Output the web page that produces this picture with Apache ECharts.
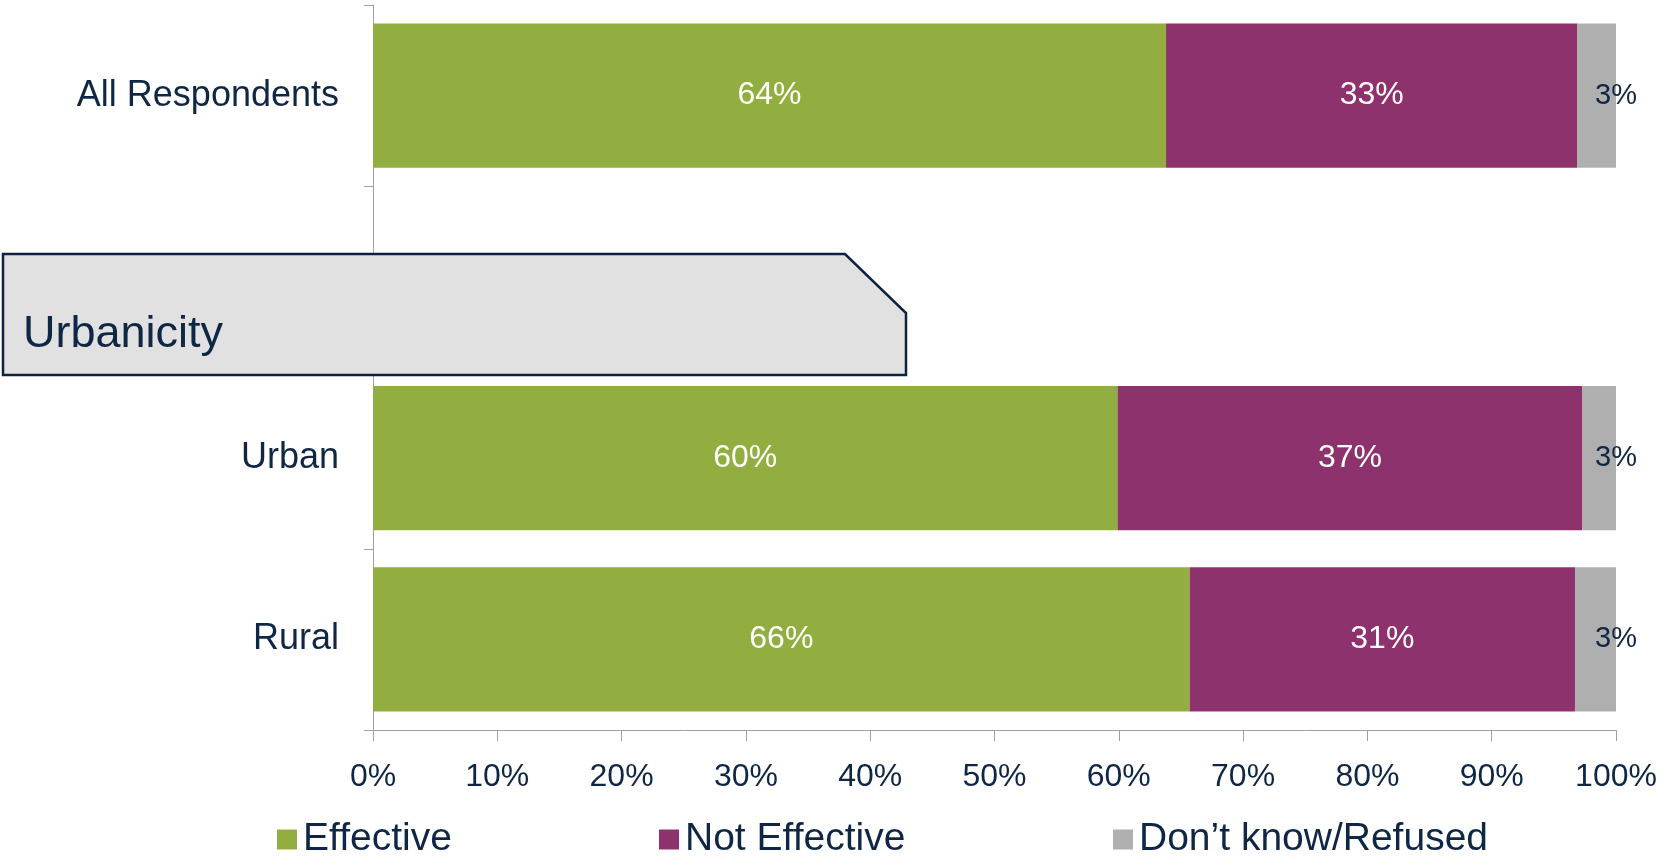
<!DOCTYPE html>
<html>
<head>
<meta charset="utf-8">
<script src="https://cdn.jsdelivr.net/npm/echarts@6/dist/echarts.min.js"></script>
<style>
html,body{margin:0;padding:0;background:#fff;}
#chart{width:1671px;height:857px;}
</style>
</head>
<body>
<div id="chart"></div>
<script>
// ---- data ----
var categories = ['All Respondents', '', 'Urban', 'Rural'];
var seriesNames = ['Effective', 'Not Effective', 'Don\u2019t know/Refused'];
var effective = [63.8, null, 59.9, 65.7];
var notEffective = [33.1, null, 37.4, 31.0];
var dontKnow = [3.1, null, 2.7, 3.3];
var xTicks = [0, 10, 20, 30, 40, 50, 60, 70, 80, 90, 100];
var groupTitle = 'Urbanicity';

// ---- style ----
var NAVY = '#0f2744';
var AXIS = '#a0a0a0';
var COLORS = ['#92ae40', '#8e326d', '#afafb0'];
var FONT = "'Liberation Sans', Arial, sans-serif";

var chart = echarts.init(document.getElementById('chart'), null, {renderer: 'canvas'});

function pctLabel(p) { return Math.round(p.value) + '%'; }

var insideLabel = {
  show: true, position: 'inside', color: '#ffffff',
  fontFamily: FONT, fontSize: 32, formatter: pctLabel
};

var option = {
  backgroundColor: '#ffffff',
  animation: false,
  grid: {left: 373, right: 55, top: 5, bottom: 127, containLabel: false, outerBoundsMode: 'none'},
  xAxis: {
    type: 'value', min: xTicks[0], max: xTicks[xTicks.length - 1], interval: xTicks[1] - xTicks[0],
    axisLine: {show: true, lineStyle: {color: AXIS, width: 1}},
    axisTick: {show: true, length: 11, lineStyle: {color: AXIS}},
    splitLine: {show: false},
    axisLabel: {color: NAVY, fontFamily: FONT, fontSize: 32, margin: 31, formatter: '{value}%'}
  },
  yAxis: {
    type: 'category', data: categories, inverse: true,
    axisLine: {show: true, lineStyle: {color: AXIS, width: 1}},
    axisTick: {show: true, length: 9, lineStyle: {color: AXIS}},
    axisLabel: {color: NAVY, fontFamily: FONT, fontSize: 36, margin: 34, padding: [4, 0, 0, 0]}
  },
  legend: [
    {data: [seriesNames[0]], left: 277, top: 820},
    {data: [seriesNames[1]], left: 659, top: 820},
    {data: [seriesNames[2]], left: 1113, top: 820}
  ].map(function (l) {
    l.icon = 'rect'; l.itemWidth = 20; l.itemHeight = 20; l.itemGap = 0;
    l.padding = 0; l.textStyle = {color: NAVY, fontFamily: FONT, fontSize: 39, padding: [0, 0, 0, 1]};
    l.selectedMode = false;
    return l;
  }),
  series: [
    {name: seriesNames[0], type: 'bar', stack: 'all', data: effective, barWidth: '79.5%',
     itemStyle: {color: COLORS[0]}, label: insideLabel},
    {name: seriesNames[1], type: 'bar', stack: 'all', data: notEffective, barWidth: '79.5%',
     itemStyle: {color: COLORS[1]}, label: insideLabel},
    {name: seriesNames[2], type: 'bar', stack: 'all', data: dontKnow, barWidth: '79.5%',
     itemStyle: {color: COLORS[2]},
     label: {show: true, position: ['100%', '50%'], align: 'center', verticalAlign: 'middle',
             color: NAVY, fontFamily: FONT, fontSize: 29, padding: [4, 0, 0, 0], formatter: pctLabel}}
  ],
  graphic: [
    {type: 'polygon', z: 100,
     shape: {points: [[3, 254], [845, 254], [906, 313], [906, 375], [3, 375]]},
     style: {fill: '#e1e1e1', stroke: '#0d2240', lineWidth: 2.5}},
    {type: 'text', z: 101, left: 23, top: 312,
     style: {text: groupTitle, fill: NAVY, font: "45px 'Liberation Sans', Arial, sans-serif"}}
  ]
};
chart.setOption(option);
</script>
</body>
</html>
